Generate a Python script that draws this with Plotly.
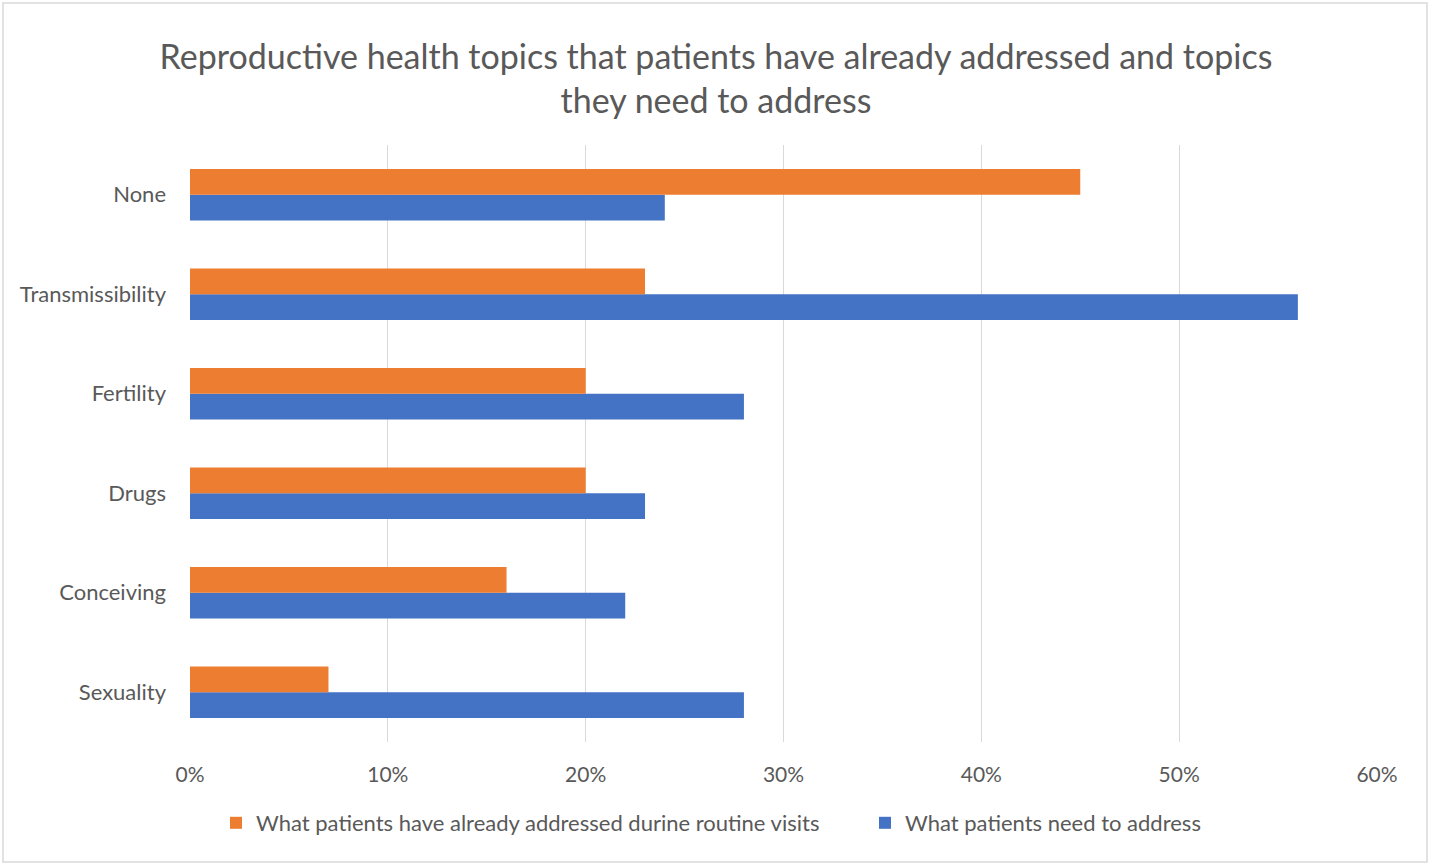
import plotly.graph_objects as go

categories = ["Sexuality", "Conceiving", "Drugs", "Fertility", "Transmissibility", "None"]
addressed = [0.07, 0.16, 0.20, 0.20, 0.23, 0.45]
need = [0.28, 0.22, 0.23, 0.28, 0.56, 0.24]
x_ticks = [0, 0.1, 0.2, 0.3, 0.4, 0.5, 0.6]
x_tick_labels = ["0%", "10%", "20%", "30%", "40%", "50%", "60%"]

W, H = 1432, 867
L, R, T, B = 190, 55, 145, 125
pw, ph = W - L - R, H - T - B

font = "Lato, Open Sans, sans-serif"
grey = "#595959"

fig = go.Figure()
fig.add_trace(go.Bar(
    y=categories, x=need, orientation="h", name="What patients need to address",
    marker=dict(color="#4472C4", line=dict(width=0)), legend="legend2",
))
fig.add_trace(go.Bar(
    y=categories, x=addressed, orientation="h",
    name="What patients have already addressed durine routine visits",
    marker=dict(color="#ED7D31", line=dict(width=0)), legend="legend",
))

leg_common = dict(
    orientation="h", xref="container", yref="container",
    xanchor="left", y=1 - 823 / H, yanchor="middle",
    font=dict(size=22, color=grey), itemwidth=30,
    bgcolor="rgba(0,0,0,0)", borderwidth=0,
)

fig.update_layout(
    width=W, height=H,
    margin=dict(l=L, r=R, t=T, b=B, autoexpand=False),
    paper_bgcolor="white", plot_bgcolor="white",
    barmode="group", bargap=0.48, bargroupgap=0,
    font=dict(family=font, color=grey, size=21),
    title=dict(
        text="Reproductive health topics that patients have already addressed and topics<br>they need to address",
        x=0.5, xanchor="center", y=1 - 69 / H, yanchor="middle",
        font=dict(size=34, color=grey, family=font),
    ),
    xaxis=dict(
        range=[0, 0.6], tickvals=x_ticks, ticktext=x_tick_labels,
        showgrid=True, gridcolor="#d9d9d9", gridwidth=1,
        zeroline=False, showline=False, ticks="", ticklabelstandoff=18,
        tickfont=dict(size=21, color=grey),
    ),
    yaxis=dict(
        categoryorder="array", categoryarray=categories,
        showgrid=False, zeroline=False, showline=False, ticks="",
        ticklabelstandoff=23, tickfont=dict(size=22, color=grey),
    ),
    legend=dict(x=216 / W, **leg_common),
    legend2=dict(x=865 / W, **leg_common),
    showlegend=True,
)

fig.add_shape(
    type="rect", xref="paper", yref="paper",
    x0=(3 - L) / pw, x1=(W - 5 - L) / pw,
    y0=(H - B - (H - 5)) / ph, y1=(H - B - 3) / ph,
    line=dict(color="#d9d9d9", width=1.5), fillcolor="rgba(0,0,0,0)", layer="below",
)

fig.write_html("out.html", config={"displayModeBar": False},
               post_script="document.body.style.margin='0';")
